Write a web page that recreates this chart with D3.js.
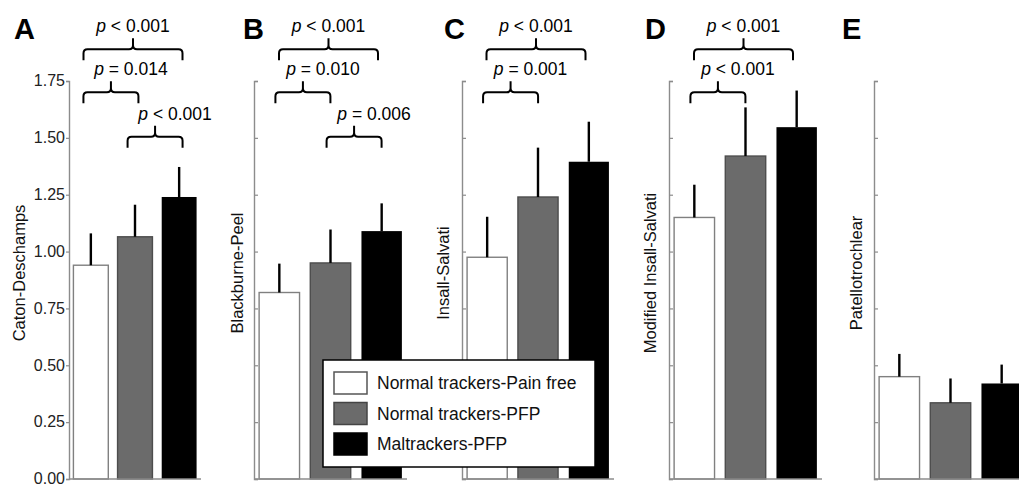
<!DOCTYPE html>
<html>
<head>
<meta charset="utf-8">
<script src="https://cdn.jsdelivr.net/npm/d3@7"></script>
<style>
  html, body { margin: 0; padding: 0; background: #fff; }
  svg { display: block; font-family: "Liberation Sans", Arial, sans-serif; }
</style>
</head>
<body>
<svg id="chart" width="1019" height="485"></svg>
<script>
// ---------------- data ----------------
const groups = ["Normal trackers-Pain free", "Normal trackers-PFP", "Maltrackers-PFP"];
const panelLetters = ["A", "B", "C", "D", "E"];
const measures = ["Caton-Deschamps", "Blackburne-Peel", "Insall-Salvati", "Modified Insall-Salvati", "Patellotrochlear"];

const meanPainFree  = [0.94, 0.82, 0.975, 1.15, 0.45];
const meanNormalPFP = [1.065, 0.95, 1.24, 1.42, 0.335];
const meanMalPFP    = [1.24, 1.09, 1.395, 1.547, 0.42];

const sdPainFree  = [0.14, 0.127, 0.178, 0.144, 0.10];
const sdNormalPFP = [0.141, 0.147, 0.217, 0.214, 0.107];
const sdMalPFP    = [0.132, 0.122, 0.176, 0.161, 0.083];

const yTicks = [0, 0.25, 0.5, 0.75, 1.0, 1.25, 1.5, 1.75];

// significance brackets: panel index, group from/to, height (axis units), label
const brackets = [
  { panel: 0, from: 0, to: 2, level: 1.89,  op: "<", p: "0.001" },
  { panel: 0, from: 0, to: 1, level: 1.70,  op: "=", p: "0.014" },
  { panel: 0, from: 1, to: 2, level: 1.505, op: "<", p: "0.001" },
  { panel: 1, from: 0, to: 2, level: 1.89,  op: "<", p: "0.001" },
  { panel: 1, from: 0, to: 1, level: 1.70,  op: "=", p: "0.010" },
  { panel: 1, from: 1, to: 2, level: 1.505, op: "=", p: "0.006" },
  { panel: 2, from: 0, to: 2, level: 1.89,  op: "<", p: "0.001" },
  { panel: 2, from: 0, to: 1, level: 1.70,  op: "=", p: "0.001" },
  { panel: 3, from: 0, to: 2, level: 1.89,  op: "<", p: "0.001" },
  { panel: 3, from: 0, to: 1, level: 1.70,  op: "<", p: "0.001" }
];

// ---------------- layout ----------------
const panelLayout = [
  { x0: 69,  x1: 201,  letterX: 14,  titleX: 25 },
  { x0: 254, x1: 407,  letterX: 243, titleX: 243 },
  { x0: 462, x1: 614,  letterX: 444, titleX: 449 },
  { x0: 669, x1: 822,  letterX: 645, titleX: 656 },
  { x0: 874, x1: 1027, letterX: 842, titleX: 862 }
];
const fills   = ["#ffffff", "#6b6b6b", "#000000"];
const strokes = ["#808080", "#4d4d4d", "#000000"];
const axisColor = "#8c8c8c";

const svg = d3.select("#chart");
const y = d3.scaleLinear().domain([0, 1.75]).range([479, 81]);

const means = [meanPainFree, meanNormalPFP, meanMalPFP];
const sds = [sdPainFree, sdNormalPFP, sdMalPFP];

const xScales = panelLayout.map(L =>
  d3.scaleBand().domain(groups).range([L.x0, L.x1]).paddingInner(0.21).paddingOuter(0.1)
);

panelLetters.forEach((letter, pi) => {
  const L = panelLayout[pi];
  const x = xScales[pi];
  const g = svg.append("g");

  // y axis
  const axis = d3.axisLeft(y).tickValues(yTicks).tickSizeOuter(0);
  if (pi === 0) {
    axis.tickSize(3).tickPadding(1).tickFormat(d3.format(".2f"));
  } else {
    axis.tickSize(-4).tickFormat("");
  }
  const ax = g.append("g").attr("transform", `translate(${L.x0},0)`).call(axis);
  ax.select(".domain").attr("stroke", axisColor).attr("stroke-width", 1.4);
  ax.selectAll(".tick line").attr("stroke", axisColor).attr("stroke-width", 1.2);
  ax.selectAll(".tick text").attr("fill", "#222").attr("dy", "0.3em").style("font-size", "16px")
    .style("font-family", "'Liberation Sans', Arial, sans-serif");

  // bars
  const rows = groups.map((grp, gi) => ({ grp, gi, mean: means[gi][pi], sd: sds[gi][pi] }));
  g.selectAll("rect.bar").data(rows).enter().append("rect")
    .attr("class", "bar")
    .attr("x", d => x(d.grp))
    .attr("width", x.bandwidth())
    .attr("y", d => y(d.mean))
    .attr("height", d => y(0) - y(d.mean))
    .attr("fill", d => fills[d.gi])
    .attr("stroke", d => strokes[d.gi])
    .attr("stroke-width", d => d.gi === 2 ? 0 : 1.4);

  // error bars
  g.selectAll("line.err").data(rows).enter().append("line")
    .attr("class", "err")
    .attr("x1", d => x(d.grp) + x.bandwidth() / 2)
    .attr("x2", d => x(d.grp) + x.bandwidth() / 2)
    .attr("y1", d => y(d.mean))
    .attr("y2", d => y(d.mean + d.sd))
    .attr("stroke", "#000").attr("stroke-width", 2.4);

  // x axis line
  g.append("line")
    .attr("x1", L.x0).attr("x2", L.x1)
    .attr("y1", y(0)).attr("y2", y(0))
    .attr("stroke", axisColor).attr("stroke-width", 1.4);

  // y title
  g.append("text")
    .attr("transform", `translate(${L.titleX},273) rotate(-90)`)
    .attr("text-anchor", "middle")
    .attr("fill", "#111")
    .style("font-size", "16.5px")
    .text(measures[pi]);

  // panel letter
  g.append("text")
    .attr("x", L.letterX).attr("y", 39)
    .attr("fill", "#000")
    .style("font-size", "29px").style("font-weight", "bold")
    .text(letter);
});

// brackets
brackets.forEach(b => {
  const x = xScales[b.panel];
  const c1 = x(groups[b.from]) + x.bandwidth() / 2;
  const c2 = x(groups[b.to]) + x.bandwidth() / 2;
  const span = b.to - b.from;
  const half = span === 2 ? 49.5 : 27.5;
  const xm = (c1 + c2) / 2 - 2;
  const x1 = xm - half, x2 = xm + half;
  const yb = y(b.level);
  const r = 4, tip = 11;
  const path = `M${x1},${yb + tip} L${x1},${yb + r} Q${x1},${yb} ${x1 + r},${yb} L${xm - r},${yb} Q${xm},${yb} ${xm},${yb - r} L${xm},${yb - tip}` +
               ` M${xm},${yb - r} Q${xm},${yb} ${xm + r},${yb} L${x2 - r},${yb} Q${x2},${yb} ${x2},${yb + r} L${x2},${yb + tip}`;
  svg.append("path").attr("d", path).attr("fill", "none")
    .attr("stroke", "#000").attr("stroke-width", 2);
  const tx = span === 2 ? xm : xm + 20;
  const t = svg.append("text")
    .attr("x", tx).attr("y", yb - 17)
    .attr("text-anchor", "middle")
    .attr("fill", "#000")
    .style("font-size", "17.5px");
  t.append("tspan").style("font-style", "italic").text("p");
  t.append("tspan").text(` ${b.op} ${b.p}`);
});

// legend
const lg = svg.append("g");
lg.append("rect").attr("x", 323).attr("y", 360).attr("width", 272).attr("height", 107)
  .attr("fill", "#fff").attr("stroke", "#000").attr("stroke-width", 1.5);
groups.forEach((grp, gi) => {
  const cy = 383 + gi * 30.5;
  lg.append("rect").attr("x", 334).attr("y", cy - 11).attr("width", 33).attr("height", 22)
    .attr("fill", fills[gi]).attr("stroke", gi === 0 ? "#555" : (gi === 1 ? "#444" : "#000"))
    .attr("stroke-width", 1.5);
  lg.append("text").attr("x", 377).attr("y", cy).attr("dy", "0.35em")
    .attr("fill", "#111").style("font-size", "17.5px").text(grp);
});
</script>
</body>
</html>
